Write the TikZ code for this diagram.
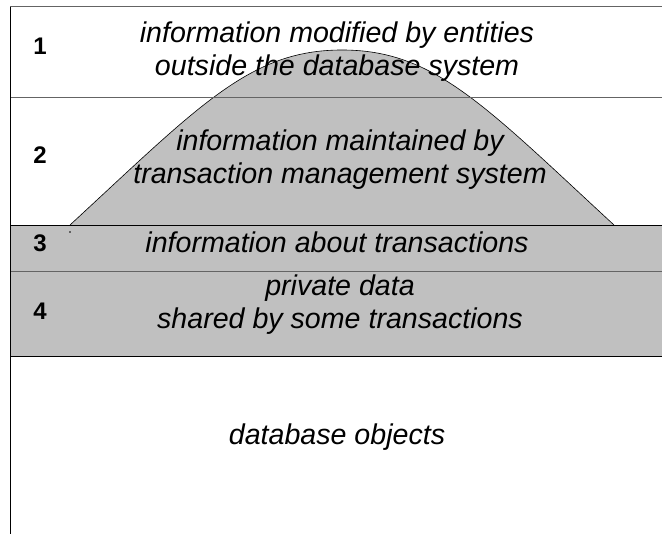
\documentclass[tikz,border=0pt]{standalone}
\usepackage{fontspec}
\setmainfont{Liberation Sans}
\usepackage{tikz}

\definecolor{cellgray}{RGB}{192,192,192}
\definecolor{rulegray}{RGB}{100,100,100}

\begin{document}
\begin{tikzpicture}[x=1pt, y=-1pt,
  lbl/.style={font=\itshape\fontsize{28.6}{33}\selectfont, align=center, inner sep=0pt},
  num/.style={font=\bfseries\fontsize{24}{26}\selectfont, inner sep=0pt}]

\useasboundingbox (0,0) rectangle (662,534);

% dome
\draw[fill=cellgray, line width=.6pt] (70,225) .. controls (200,105) and (250,50) .. (342,50)
  .. controls (434,50) and (484,105) .. (614,225);

% rows
\draw[rulegray, line width=1pt] (10,7) -- (662,7);
\draw[rulegray, line width=1pt] (10,98) -- (662,98);
\fill[cellgray] (10,226) rectangle (662,357);
\draw[line width=1pt] (10,226) -- (662,226);
\draw[rulegray, line width=1pt] (10,272) -- (662,272);
\draw[line width=1pt] (10,357) -- (662,357);
\draw[line width=1pt] (10,7) -- (10,534);
\fill (70,232) circle (.9);

\node[num] (n1) at (40,46) {1};
\node[num] (n2) at (40,155) {2};
\node[num] (n3) at (40,243) {3};
\node[num] (n4) at (40,311) {4};

\node[lbl] (t1) at (337,52) {information modified by entities\\outside the database system};
\node[lbl] (t2) at (340,160) {information maintained by\\transaction management system};
\node[lbl] (t3) at (337,242) {information about transactions};
\node[lbl] (t4) at (340,305) {private data\\shared by some transactions};
\node[lbl] (t5) at (337,437) {database objects};

\end{tikzpicture}
\end{document}
